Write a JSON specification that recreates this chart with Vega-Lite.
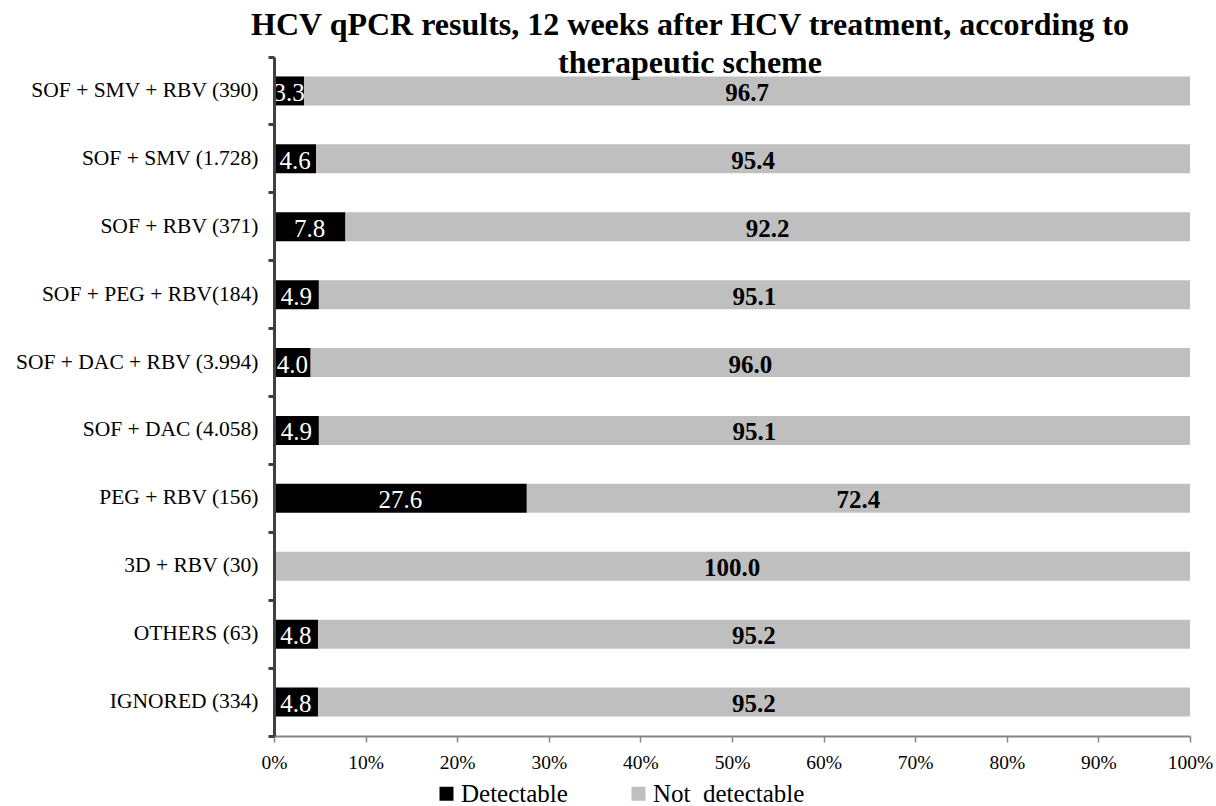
{
  "$schema": "https://vega.github.io/schema/vega-lite/v6.json",
  "width": 916,
  "height": 679,
  "autosize": {"type": "none"},
  "padding": {"left": 274, "top": 57, "right": 26, "bottom": 70},
  "background": "white",
  "title": {
    "text": ["HCV qPCR results, 12 weeks after HCV treatment, according to", "therapeutic scheme"],
    "font": "Liberation Serif",
    "fontSize": 32,
    "fontWeight": "bold",
    "color": "black",
    "lineHeight": 38,
    "anchor": "middle",
    "dx": -42,
    "offset": -34
  },
  "config": {"view": {"stroke": null}},
  "data": {
    "values": [
      {"scheme": "SOF + SMV + RBV (390)", "status": "Detectable", "value": 3.3},
      {"scheme": "SOF + SMV + RBV (390)", "status": "Not detectable", "value": 96.7},
      {"scheme": "SOF + SMV (1.728)", "status": "Detectable", "value": 4.6},
      {"scheme": "SOF + SMV (1.728)", "status": "Not detectable", "value": 95.4},
      {"scheme": "SOF + RBV (371)", "status": "Detectable", "value": 7.8},
      {"scheme": "SOF + RBV (371)", "status": "Not detectable", "value": 92.2},
      {"scheme": "SOF + PEG + RBV(184)", "status": "Detectable", "value": 4.9},
      {"scheme": "SOF + PEG + RBV(184)", "status": "Not detectable", "value": 95.1},
      {"scheme": "SOF + DAC + RBV (3.994)", "status": "Detectable", "value": 4.0},
      {"scheme": "SOF + DAC + RBV (3.994)", "status": "Not detectable", "value": 96.0},
      {"scheme": "SOF + DAC (4.058)", "status": "Detectable", "value": 4.9},
      {"scheme": "SOF + DAC (4.058)", "status": "Not detectable", "value": 95.1},
      {"scheme": "PEG + RBV (156)", "status": "Detectable", "value": 27.6},
      {"scheme": "PEG + RBV (156)", "status": "Not detectable", "value": 72.4},
      {"scheme": "3D + RBV (30)", "status": "Detectable", "value": 0},
      {"scheme": "3D + RBV (30)", "status": "Not detectable", "value": 100.0},
      {"scheme": "OTHERS (63)", "status": "Detectable", "value": 4.8},
      {"scheme": "OTHERS (63)", "status": "Not detectable", "value": 95.2},
      {"scheme": "IGNORED (334)", "status": "Detectable", "value": 4.8},
      {"scheme": "IGNORED (334)", "status": "Not detectable", "value": 95.2}
    ]
  },
  "encoding": {
    "y": {
      "field": "scheme",
      "type": "nominal",
      "sort": null,
      "scale": {"paddingInner": 0, "paddingOuter": 0},
      "axis": {
        "title": null,
        "labelFont": "Liberation Serif",
        "labelFontSize": 21.5,
        "labelColor": "black",
        "labelPadding": 10,
        "labelLimit": 0,
        "domainColor": "#404040",
        "domainWidth": 3,
        "tickColor": "#404040",
        "tickWidth": 3,
        "tickSize": 6,
        "bandPosition": 1,
        "tickExtra": true,
        "zindex": 1
      }
    }
  },
  "layer": [
    {
      "mark": {"type": "bar", "size": 29},
      "encoding": {
        "x": {
          "field": "value",
          "type": "quantitative",
          "stack": "zero",
          "scale": {"domain": [0, 100], "nice": false},
          "axis": {
            "title": null,
            "values": [0, 10, 20, 30, 40, 50, 60, 70, 80, 90, 100],
            "labelExpr": "datum.value + '%'",
            "labelFont": "Liberation Serif",
            "labelFontSize": 19.5,
            "labelColor": "black",
            "labelPadding": 11,
            "labelFlush": false,
            "labelOverlap": false,
            "grid": false,
            "domainColor": "#868686",
            "domainWidth": 2,
            "tickColor": "#868686",
            "tickWidth": 1.5,
            "tickSize": 6,
            "zindex": 1
          }
        },
        "color": {
          "field": "status",
          "type": "nominal",
          "scale": {"domain": ["Detectable", "Not detectable"], "range": ["#000000", "#BFBFBF"]},
          "legend": {
            "title": null,
            "orient": "none",
            "direction": "horizontal",
            "legendX": 160,
            "legendY": 724,
            "padding": 0,
            "symbolType": "square",
            "symbolSize": 196,
            "symbolStrokeWidth": 0,
            "labelFont": "Liberation Serif",
            "labelFontSize": 25,
            "labelColor": "black",
            "labelOffset": 2,
            "columnPadding": 58,
            "labelExpr": "datum.label == 'Not detectable' ? 'Not\u00a0 detectable' : datum.label"
          }
        }
      }
    },
    {
      "mark": {"type": "text", "font": "Liberation Serif", "fontSize": 25, "color": "white", "dy": 2},
      "encoding": {
        "x": {"field": "value", "type": "quantitative", "stack": "zero", "bandPosition": 0.5},
        "detail": {"field": "status"},
        "text": {
          "condition": {"test": "datum.status === 'Detectable' && datum.value > 0", "field": "value", "format": ".1f"},
          "value": ""
        }
      }
    },
    {
      "mark": {"type": "text", "font": "Liberation Serif", "fontSize": 25, "fontWeight": "bold", "color": "black", "dy": 2},
      "encoding": {
        "x": {"field": "value", "type": "quantitative", "stack": "zero", "bandPosition": 0.5},
        "detail": {"field": "status"},
        "text": {
          "condition": {"test": "datum.status === 'Not detectable'", "field": "value", "format": ".1f"},
          "value": ""
        }
      }
    }
  ]
}
